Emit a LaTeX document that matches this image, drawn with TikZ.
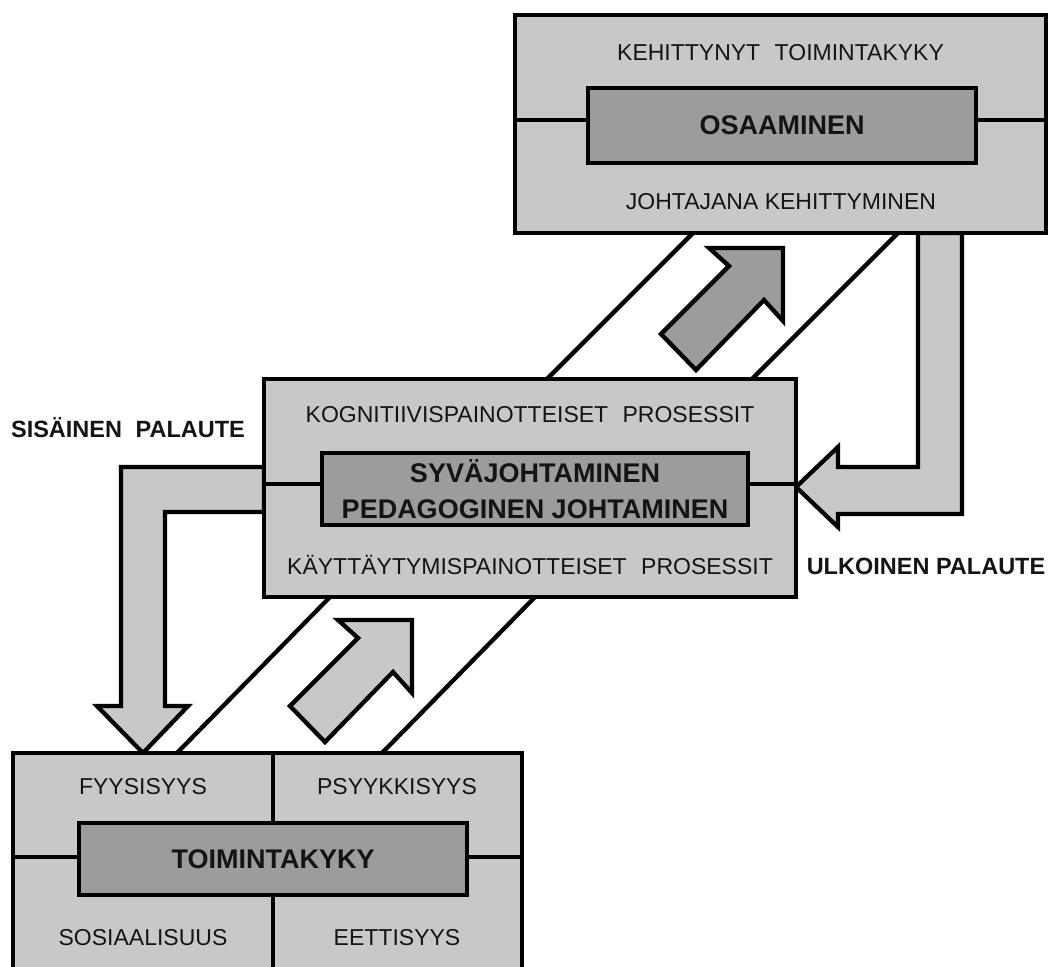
\documentclass[tikz,border=0pt]{standalone}
\usepackage{fontspec}
\setmainfont{Liberation Sans}
\usetikzlibrary{backgrounds}
\definecolor{lightg}{RGB}{200,200,200}
\definecolor{darkg}{RGB}{156,156,156}
\definecolor{txt}{RGB}{20,20,20}
\tikzset{
  outerbox/.style={draw=black, fill=lightg, line width=4.3pt, inner sep=0pt, outer sep=0pt},
  innerbox/.style={draw=black, fill=darkg, line width=4.3pt, inner sep=0pt, outer sep=0pt, align=center, text=txt,
     font=\fontsize{27}{36}\selectfont\bfseries},
  lbl/.style={inner sep=0pt, text=txt, font=\fontsize{23}{27}\selectfont},
  blbl/.style={inner sep=0pt, text=txt, font=\fontsize{23.5}{27}\selectfont\bfseries},
  divline/.style={draw=black, line width=4.3pt},
  bandline/.style={draw=black, line width=4.3pt},
  fbarrow/.style={draw=black, fill=lightg, line width=4.3pt, line join=miter},
  diagarrow/.style={draw=black, line width=4.3pt, line join=miter},
}
\begin{document}
\begin{tikzpicture}[x=1pt,y=-1pt]
\useasboundingbox (0,0) rectangle (1048,966);

% boxes
\node[outerbox, minimum width=531pt, minimum height=218pt] (top) at (780.5,124) {};
\node[outerbox, minimum width=532pt, minimum height=218pt] (mid) at (530,488) {};
\node[outerbox, minimum width=509pt, minimum height=227pt] (bot) at (267.5,866.5) {};

% dividing lines
\draw[divline] (top.west |- 0,120) -- (top.east |- 0,120);
\draw[divline] (mid.west |- 0,484) -- (mid.east |- 0,484);
\draw[divline] (bot.west |- 0,857) -- (bot.east |- 0,857);
\draw[divline] (bot.north -| 273,0) -- (bot.south -| 273,0);

% inner boxes
\node[innerbox, minimum width=388pt, minimum height=75pt] (topin) at (782,125.5) {OSAAMINEN};
\node[innerbox, minimum width=426pt, minimum height=72pt] (midin) at (535,489) {SYVÄJOHTAMINEN\\PEDAGOGINEN JOHTAMINEN};
\node[innerbox, minimum width=388pt, minimum height=72pt] (botin) at (273,859) {TOIMINTAKYKY};

% labels
\node[lbl] (t1) at (780.5,53) {KEHITTYNYT\hspace{0.35em} TOIMINTAKYKY};
\node[lbl] (t2) at (781,202) {JOHTAJANA KEHITTYMINEN};
\node[lbl] (m1) at (530,415) {KOGNITIIVISPAINOTTEISET\hspace{0.35em} PROSESSIT};
\node[lbl] (m2) at (530,565) {KÄYTTÄYTYMISPAINOTTEISET\hspace{0.35em} PROSESSIT};
\node[lbl] (b1) at (143,787) {FYYSISYYS};
\node[lbl] (b2) at (397,787) {PSYYKKISYYS};
\node[lbl] (b3) at (143,938) {SOSIAALISUUS};
\node[lbl] (b4) at (397,938) {EETTISYYS};
\node[blbl] (sis) at (128,428) {SISÄINEN\hspace{0.3em} PALAUTE};
\node[blbl] (ulk) at (926,566) {ULKOINEN PALAUTE};

\begin{scope}[on background layer]
% diagonal bands
\draw[bandline] (top.south -| 693,0) -- (mid.north -| 547,0);
\draw[bandline] (top.south -| 898,0) -- (mid.north -| 752,0);
\draw[bandline] (mid.south -| 330,0) -- (bot.north -| 177,0);
\draw[bandline] (mid.south -| 535,0) -- (bot.north -| 382,0);
% feedback arrows
\draw[fbarrow] (mid.west |- 0,467) -- (121,467) -- (121,706) -- (97,706) -- (bot.north -| 143,0)
   -- (188,706) -- (165,706) -- (165,512) -- (mid.west |- 0,512) -- cycle;
\draw[fbarrow] (top.south -| 918,0) -- (top.south -| 962,0) -- (962,514) -- (838,514) -- (838,527)
   -- (mid.east |- 0,487) -- (838,447) -- (838,467) -- (918,467) -- cycle;
\end{scope}

% diagonal arrows
\draw[diagarrow, fill=darkg] (783,248) -- ++(-74,0) -- ++(20,18) -- ++(-68,68) -- ++(35,36) -- ++(68,-70) -- ++(19,21) -- cycle;
\draw[diagarrow, fill=lightg] (412,620) -- ++(-74,0) -- ++(20,18) -- ++(-68,68) -- ++(35,36) -- ++(68,-70) -- ++(19,21) -- cycle;
\end{tikzpicture}
\end{document}
